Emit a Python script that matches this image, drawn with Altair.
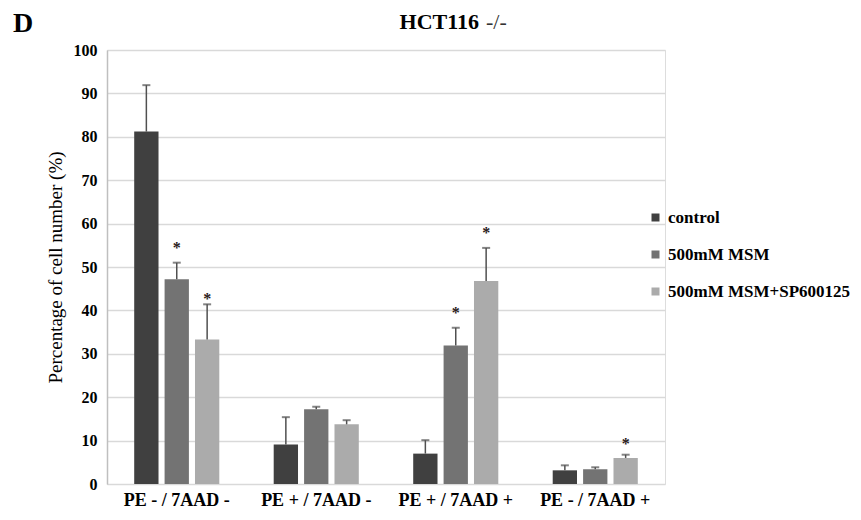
import altair as alt
import pandas as pd

groups = ["PE - / 7AAD -", "PE + / 7AAD -", "PE + / 7AAD +", "PE - / 7AAD +"]
series = ["control", "500mM MSM", "500mM MSM+SP600125"]
colors = ["#404040", "#737373", "#ababab"]

control = [81.2, 9.1, 7.0, 3.15]
msm = [47.2, 17.2, 31.9, 3.4]
msm_sp = [33.3, 13.75, 46.8, 6.0]

control_err = [10.7, 6.3, 3.1, 1.15]
msm_err = [3.8, 0.6, 4.1, 0.45]
msm_sp_err = [8.1, 0.95, 7.6, 0.75]

star_control = [None, None, None, None]
star_msm = [55.6, None, 40.6, None]
star_sp = [43.8, None, 59.1, 10.4]

y_ticks = [0, 10, 20, 30, 40, 50, 60, 70, 80, 90, 100]

rows = []
for s, vals, errs, stars in [
    (series[0], control, control_err, star_control),
    (series[1], msm, msm_err, star_msm),
    (series[2], msm_sp, msm_sp_err, star_sp),
]:
    for g, v, e, st in zip(groups, vals, errs, stars):
        rows.append({"group": g, "series": s, "value": v, "top": v + e, "star": st})
df = pd.DataFrame(rows)

FONT = "Liberation Serif"

base = alt.Chart(df).encode(
    x=alt.X(
        "group:N",
        sort=groups,
        scale=alt.Scale(paddingInner=0.39, paddingOuter=0.195),
        axis=alt.Axis(
            title=None, labelAngle=0, ticks=False, domain=False,
            labelFont=FONT, labelFontWeight="bold", labelFontSize=18,
            labelColor="#000000", labelPadding=7,
        ),
    ),
    xOffset=alt.XOffset("series:N", sort=series,
                        scale=alt.Scale(paddingInner=0.2, paddingOuter=0)),
)

bars = base.mark_bar().encode(
    y=alt.Y(
        "value:Q",
        scale=alt.Scale(domain=[0, 100], nice=False),
        axis=alt.Axis(
            values=y_ticks, title="Percentage of cell number  (%)",
            titleFont=FONT, titleFontWeight="normal", titleFontSize=19,
            titleColor="#000000", titlePadding=8,
            labelFont=FONT, labelFontWeight="bold", labelFontSize=16,
            labelColor="#000000", labelPadding=10, ticks=False,
            grid=True, gridColor="#d9d9d9", gridWidth=1.5,
            domain=True, domainColor="#bfbfbf", domainWidth=1.5,
        ),
    ),
    color=alt.Color(
        "series:N", sort=series,
        scale=alt.Scale(domain=series, range=colors),
        legend=alt.Legend(
            title=None, orient="none", legendX=540, legendY=159,
            symbolType="square", symbolSize=64, symbolStrokeWidth=0,
            labelFont=FONT, labelFontWeight="bold", labelFontSize=17,
            labelColor="#000000", rowPadding=19, labelOffset=4,
            labelLimit=0,
        ),
    ),
)

rules = base.mark_rule(color="#505050", strokeWidth=1.5).encode(
    y="value:Q", y2="top:Q"
)
caps = base.mark_tick(color="#505050", size=8, thickness=2).encode(y="top:Q")
stars = base.transform_filter("isValid(datum.star)").mark_text(
    text="*", fontSize=16, fontWeight="bold", font=FONT, dy=5, color="#2a1a1a"
).encode(y="star:Q")

labels = pd.DataFrame({"t": ["D"]})
letter = alt.Chart(labels).mark_text(
    font=FONT, fontWeight="bold", fontSize=28, color="#000000",
    align="left", baseline="alphabetic",
).encode(text="t:N", x=alt.value(-94), y=alt.value(-18))

title_main = alt.Chart(pd.DataFrame({"t": ["HCT116"]})).mark_text(
    font=FONT, fontWeight="bold", fontSize=22, color="#000000",
    align="right", baseline="alphabetic",
).encode(text="t:N", x=alt.value(372), y=alt.value(-21))

title_sub = alt.Chart(pd.DataFrame({"t": ["-/-"]})).mark_text(
    font=FONT, fontWeight="normal", fontSize=22, color="#333333",
    align="left", baseline="alphabetic",
).encode(text="t:N", x=alt.value(379), y=alt.value(-21))

chart = alt.layer(bars, rules, caps, stars, letter, title_main, title_sub).properties(
    width=558,
    height=434,
    autosize=alt.AutoSizeParams(type="none"),
    padding={"left": 107, "top": 50, "right": 196, "bottom": 36},
).configure_view(stroke=None).configure(background="white")

chart.save("out.html", embed_options={"renderer": "svg", "actions": False})
